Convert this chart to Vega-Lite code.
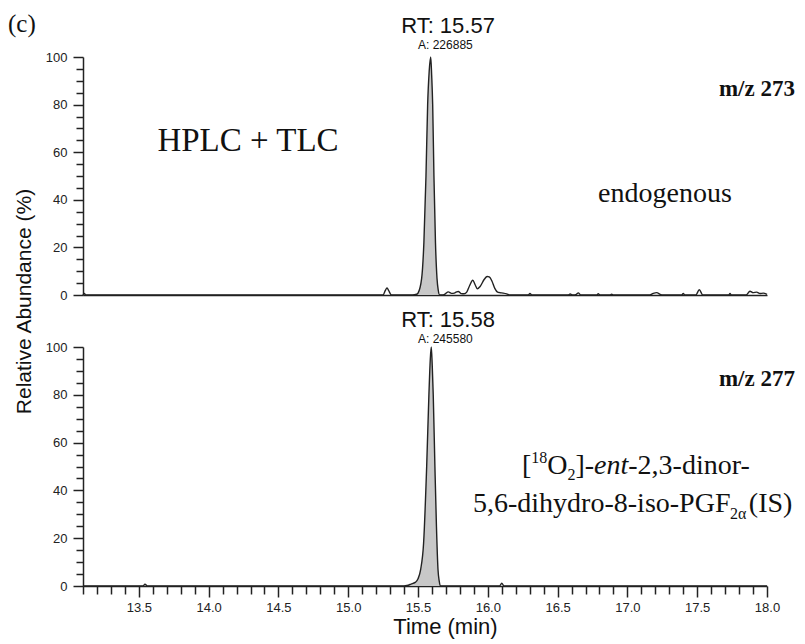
{
  "$schema": "https://vega.github.io/schema/vega-lite/v6.json",
  "background": "white",
  "padding": {"left": 8, "top": 12, "right": 5, "bottom": 5},
  "bounds": "flush",
  "spacing": 52,
  "config": {
    "view": {"stroke": null},
    "axis": {"grid": false, "domainColor": "#222", "domainWidth": 1.5, "tickColor": "#222", "tickWidth": 1.5, "labelFont": "Liberation Sans", "labelFontSize": 13, "labelColor": "#222", "titleFont": "Liberation Sans", "titleFontWeight": "normal", "titleColor": "#111", "labelOverlap": false, "labelFlush": false, "labelBound": false}
  },
  "datasets": {
    "top": [
      {"t": 13.1, "v": 0, "p": 0}, {"t": 13.11, "v": 0.6, "p": 0}, {"t": 13.12, "v": 0, "p": 0},
      {"t": 15.25, "v": 0, "p": 0}, {"t": 15.265, "v": 1.8, "p": 0}, {"t": 15.278, "v": 3, "p": 0}, {"t": 15.29, "v": 1.8, "p": 0}, {"t": 15.31, "v": 0, "p": 0},
      {"t": 15.46, "v": 0, "p": 1}, {"t": 15.49, "v": 0.3, "p": 1}, {"t": 15.5, "v": 0.8, "p": 1}, {"t": 15.526, "v": 7, "p": 1}, {"t": 15.542, "v": 22, "p": 1}, {"t": 15.557, "v": 50, "p": 1}, {"t": 15.569, "v": 80, "p": 1}, {"t": 15.58, "v": 94, "p": 1}, {"t": 15.591, "v": 100, "p": 1}, {"t": 15.598, "v": 92, "p": 1}, {"t": 15.605, "v": 80, "p": 1}, {"t": 15.614, "v": 50, "p": 1}, {"t": 15.625, "v": 22, "p": 1}, {"t": 15.636, "v": 7, "p": 1}, {"t": 15.645, "v": 2, "p": 1}, {"t": 15.655, "v": 0, "p": 1},
      {"t": 15.675, "v": 0, "p": 0}, {"t": 15.693, "v": 0.4, "p": 0}, {"t": 15.717, "v": 1.3, "p": 0}, {"t": 15.74, "v": 0.7, "p": 0}, {"t": 15.76, "v": 0.8, "p": 0}, {"t": 15.776, "v": 1.3, "p": 0}, {"t": 15.788, "v": 1.5, "p": 0}, {"t": 15.81, "v": 0.6, "p": 0}, {"t": 15.83, "v": 0.5, "p": 0}, {"t": 15.849, "v": 1.2, "p": 0}, {"t": 15.87, "v": 4.0, "p": 0}, {"t": 15.892, "v": 6.2, "p": 0}, {"t": 15.91, "v": 4.2, "p": 0}, {"t": 15.925, "v": 2.6, "p": 0}, {"t": 15.945, "v": 3.6, "p": 0}, {"t": 15.975, "v": 6.6, "p": 0}, {"t": 15.995, "v": 7.8, "p": 0}, {"t": 16.01, "v": 7.6, "p": 0}, {"t": 16.03, "v": 5.8, "p": 0}, {"t": 16.05, "v": 2.8, "p": 0}, {"t": 16.07, "v": 1.2, "p": 0}, {"t": 16.085, "v": 1.0, "p": 0}, {"t": 16.11, "v": 0.8, "p": 0}, {"t": 16.135, "v": 0.5, "p": 0}, {"t": 16.16, "v": 0, "p": 0},
      {"t": 16.29, "v": 0, "p": 0}, {"t": 16.302, "v": 0.6, "p": 0}, {"t": 16.315, "v": 0, "p": 0},
      {"t": 16.575, "v": 0, "p": 0}, {"t": 16.59, "v": 0.4, "p": 0}, {"t": 16.61, "v": 0, "p": 0}, {"t": 16.635, "v": 0.3, "p": 0}, {"t": 16.648, "v": 0.9, "p": 0}, {"t": 16.665, "v": 0, "p": 0},
      {"t": 16.78, "v": 0, "p": 0}, {"t": 16.791, "v": 0.5, "p": 0}, {"t": 16.805, "v": 0, "p": 0},
      {"t": 16.875, "v": 0, "p": 0}, {"t": 16.887, "v": 0.3, "p": 0}, {"t": 16.9, "v": 0, "p": 0},
      {"t": 17.16, "v": 0, "p": 0}, {"t": 17.185, "v": 0.7, "p": 0}, {"t": 17.21, "v": 1.0, "p": 0}, {"t": 17.235, "v": 0.3, "p": 0}, {"t": 17.25, "v": 0, "p": 0},
      {"t": 17.39, "v": 0, "p": 0}, {"t": 17.4, "v": 0.7, "p": 0}, {"t": 17.41, "v": 0, "p": 0},
      {"t": 17.49, "v": 0, "p": 0}, {"t": 17.515, "v": 2.2, "p": 0}, {"t": 17.54, "v": 0, "p": 0},
      {"t": 17.725, "v": 0, "p": 0}, {"t": 17.735, "v": 0.6, "p": 0}, {"t": 17.745, "v": 0, "p": 0},
      {"t": 17.85, "v": 0, "p": 0}, {"t": 17.878, "v": 1.6, "p": 0}, {"t": 17.9, "v": 1.0, "p": 0}, {"t": 17.926, "v": 1.2, "p": 0}, {"t": 17.95, "v": 0.6, "p": 0}, {"t": 17.973, "v": 0.8, "p": 0}, {"t": 18.0, "v": 0.3, "p": 0}
    ],
    "bottom": [
      {"t": 13.1, "v": 0, "p": 0}, {"t": 13.53, "v": 0, "p": 0}, {"t": 13.544, "v": 0.8, "p": 0}, {"t": 13.56, "v": 0, "p": 0},
      {"t": 15.4, "v": 0, "p": 1}, {"t": 15.421, "v": 0.2, "p": 1}, {"t": 15.45, "v": 0.8, "p": 1}, {"t": 15.48, "v": 1.5, "p": 1}, {"t": 15.5, "v": 3, "p": 1}, {"t": 15.519, "v": 7, "p": 1}, {"t": 15.54, "v": 18, "p": 1}, {"t": 15.562, "v": 50, "p": 1}, {"t": 15.578, "v": 80, "p": 1}, {"t": 15.588, "v": 95, "p": 1}, {"t": 15.595, "v": 100, "p": 1}, {"t": 15.602, "v": 92, "p": 1}, {"t": 15.609, "v": 80, "p": 1}, {"t": 15.621, "v": 50, "p": 1}, {"t": 15.632, "v": 25, "p": 1}, {"t": 15.643, "v": 7, "p": 1}, {"t": 15.652, "v": 2, "p": 1}, {"t": 15.66, "v": 0, "p": 1},
      {"t": 16.085, "v": 0, "p": 0}, {"t": 16.1, "v": 1.2, "p": 0}, {"t": 16.115, "v": 0, "p": 0}, {"t": 18.0, "v": 0, "p": 0}
    ]
  },
  "vconcat": [
    {
      "width": 684,
      "height": 238,
      "layer": [
        {
          "data": {"name": "top"},
          "transform": [{"filter": "datum.p == 1"}],
          "mark": {"type": "area", "color": "#c8c8c8", "interpolate": "monotone"},
          "encoding": {
            "x": {"field": "t", "type": "quantitative", "scale": {"domain": [13.1, 18.0], "nice": false, "zero": false},
                  "axis": {"labels": false, "ticks": false, "title": null}},
            "y": {"field": "v", "type": "quantitative", "scale": {"domain": [0, 100], "nice": false},
                  "axis": {"values": [0,5,10,15,20,25,30,35,40,45,50,55,60,65,70,75,80,85,90,95,100],
                           "tickCount": 200,
                           "labelExpr": "datum.value % 20 == 0 ? format(datum.value, 'd') : ''",
                           "tickSize": {"condition": {"test": "datum.value % 20 == 0", "value": 10}, "value": 7},
                           "labelPadding": 6,
                           "title": "Relative Abundance (%)", "titleFontSize": 21, "titleX": -59, "titleY": 244, "titleBaseline": "middle", "titleAlign": "center", "titleAngle": -90}}
          }
        },
        {
          "data": {"name": "top"},
          "mark": {"type": "line", "color": "#222", "strokeWidth": 1.4, "interpolate": "monotone"},
          "encoding": {
            "x": {"field": "t", "type": "quantitative"},
            "y": {"field": "v", "type": "quantitative"}
          }
        },
        {
          "data": {"values": [
            {"t": 15.715, "v": 110.2, "label": "RT: 15.57"}
          ]},
          "mark": {"type": "text", "font": "Liberation Sans", "fontSize": 22, "align": "center", "baseline": "alphabetic", "color": "#111"},
          "encoding": {"x": {"field": "t", "type": "quantitative"}, "y": {"field": "v", "type": "quantitative"}, "text": {"field": "label"}}
        },
        {
          "data": {"values": [
            {"t": 15.696, "v": 103.4, "label": "A: 226885"}
          ]},
          "mark": {"type": "text", "font": "Liberation Sans", "fontSize": 12, "align": "center", "baseline": "alphabetic", "color": "#111"},
          "encoding": {"x": {"field": "t", "type": "quantitative"}, "y": {"field": "v", "type": "quantitative"}, "text": {"field": "label"}}
        },
        {
          "data": {"values": [
            {"t": 12.563, "v": 110.5, "label": "(c)"}
          ]},
          "mark": {"type": "text", "font": "Liberation Serif", "fontSize": 25, "align": "left", "baseline": "alphabetic", "color": "#111"},
          "encoding": {"x": {"field": "t", "type": "quantitative"}, "y": {"field": "v", "type": "quantitative"}, "text": {"field": "label"}}
        },
        {
          "data": {"values": [
            {"t": 18.2, "v": 83.5, "label": "m/z 273"}
          ]},
          "mark": {"type": "text", "font": "Liberation Serif", "fontSize": 23, "fontWeight": "bold", "align": "right", "baseline": "alphabetic", "color": "#111"},
          "encoding": {"x": {"field": "t", "type": "quantitative"}, "y": {"field": "v", "type": "quantitative"}, "text": {"field": "label"}}
        },
        {
          "data": {"values": [
            {"t": 14.282, "v": 60.5, "label": "HPLC + TLC"}
          ]},
          "mark": {"type": "text", "font": "Liberation Serif", "fontSize": 33, "align": "center", "baseline": "alphabetic", "color": "#111"},
          "encoding": {"x": {"field": "t", "type": "quantitative"}, "y": {"field": "v", "type": "quantitative"}, "text": {"field": "label"}}
        },
        {
          "data": {"values": [
            {"t": 17.269, "v": 39.1, "label": "endogenous"}
          ]},
          "mark": {"type": "text", "font": "Liberation Serif", "fontSize": 28, "align": "center", "baseline": "alphabetic", "color": "#111"},
          "encoding": {"x": {"field": "t", "type": "quantitative"}, "y": {"field": "v", "type": "quantitative"}, "text": {"field": "label"}}
        }
      ]
    },
    {
      "width": 684,
      "height": 239,
      "layer": [
        {
          "data": {"name": "bottom"},
          "transform": [{"filter": "datum.p == 1"}],
          "mark": {"type": "area", "color": "#c8c8c8", "interpolate": "monotone"},
          "encoding": {
            "x": {"field": "t", "type": "quantitative", "scale": {"domain": [13.1, 18.0], "nice": false, "zero": false},
                  "axis": {"values": [13.1,13.2,13.3,13.4,13.5,13.6,13.7,13.8,13.9,14.0,14.1,14.2,14.3,14.4,14.5,14.6,14.7,14.8,14.9,15.0,15.1,15.2,15.3,15.4,15.5,15.6,15.7,15.8,15.9,16.0,16.1,16.2,16.3,16.4,16.5,16.6,16.7,16.8,16.9,17.0,17.1,17.2,17.3,17.4,17.5,17.6,17.7,17.8,17.9,18.0],
                           "tickCount": 200,
                           "labelExpr": "abs(round(datum.value*10) % 5) == 0 ? format(datum.value, '.1f') : ''",
                           "tickSize": {"condition": {"test": "abs(round(datum.value*10) % 5) == 0", "value": 11}, "value": 8},
                           "labelPadding": 4,
                           "title": "Time (min)", "titleFontSize": 22, "titleX": 362, "titlePadding": 2}},
            "y": {"field": "v", "type": "quantitative", "scale": {"domain": [0, 100], "nice": false},
                  "axis": {"values": [0,5,10,15,20,25,30,35,40,45,50,55,60,65,70,75,80,85,90,95,100],
                           "tickCount": 200,
                           "labelExpr": "datum.value % 20 == 0 ? format(datum.value, 'd') : ''",
                           "tickSize": {"condition": {"test": "datum.value % 20 == 0", "value": 10}, "value": 7},
                           "labelPadding": 6, "title": null}}
          }
        },
        {
          "data": {"name": "bottom"},
          "mark": {"type": "line", "color": "#222", "strokeWidth": 1.4, "interpolate": "monotone"},
          "encoding": {
            "x": {"field": "t", "type": "quantitative"},
            "y": {"field": "v", "type": "quantitative"}
          }
        },
        {
          "data": {"values": [
            {"t": 15.715, "v": 108.4, "label": "RT: 15.58"}
          ]},
          "mark": {"type": "text", "font": "Liberation Sans", "fontSize": 22, "align": "center", "baseline": "alphabetic", "color": "#111"},
          "encoding": {"x": {"field": "t", "type": "quantitative"}, "y": {"field": "v", "type": "quantitative"}, "text": {"field": "label"}}
        },
        {
          "data": {"values": [
            {"t": 15.696, "v": 101.7, "label": "A: 245580"}
          ]},
          "mark": {"type": "text", "font": "Liberation Sans", "fontSize": 12, "align": "center", "baseline": "alphabetic", "color": "#111"},
          "encoding": {"x": {"field": "t", "type": "quantitative"}, "y": {"field": "v", "type": "quantitative"}, "text": {"field": "label"}}
        },
        {
          "data": {"values": [
            {"t": 18.2, "v": 83.7, "label": "m/z 277"}
          ]},
          "mark": {"type": "text", "font": "Liberation Serif", "fontSize": 23, "fontWeight": "bold", "align": "right", "baseline": "alphabetic", "color": "#111"},
          "encoding": {"x": {"field": "t", "type": "quantitative"}, "y": {"field": "v", "type": "quantitative"}, "text": {"field": "label"}}
        },
        {
          "data": {"values": [
            {"t": 16.245, "v": 46.9, "label": "["},
            {"t": 16.426, "v": 46.9, "label": "O"},
            {"t": 16.628, "v": 46.9, "label": "]-"},
            {"t": 17.006, "v": 46.9, "label": "-2,3-dinor-"},
            {"t": 15.894, "v": 31.0, "label": "5,6-dihydro-8-iso-PGF"},
            {"t": 17.87, "v": 31.0, "label": "(IS)"}
          ]},
          "mark": {"type": "text", "font": "Liberation Serif", "fontSize": 28, "align": "left", "baseline": "alphabetic", "color": "#111"},
          "encoding": {"x": {"field": "t", "type": "quantitative"}, "y": {"field": "v", "type": "quantitative"}, "text": {"field": "label"}}
        },
        {
          "data": {"values": [
            {"t": 16.761, "v": 46.9, "label": "ent"}
          ]},
          "mark": {"type": "text", "font": "Liberation Serif", "fontSize": 28, "fontStyle": "italic", "align": "left", "baseline": "alphabetic", "color": "#111"},
          "encoding": {"x": {"field": "t", "type": "quantitative"}, "y": {"field": "v", "type": "quantitative"}, "text": {"field": "label"}}
        },
        {
          "data": {"values": [
            {"t": 16.311, "v": 51.5, "label": "18"},
            {"t": 16.571, "v": 44.4, "label": "2"},
            {"t": 17.735, "v": 28.0, "label": "2α"}
          ]},
          "mark": {"type": "text", "font": "Liberation Serif", "fontSize": 16, "align": "left", "baseline": "alphabetic", "color": "#111"},
          "encoding": {"x": {"field": "t", "type": "quantitative"}, "y": {"field": "v", "type": "quantitative"}, "text": {"field": "label"}}
        }
      ]
    }
  ]
}
